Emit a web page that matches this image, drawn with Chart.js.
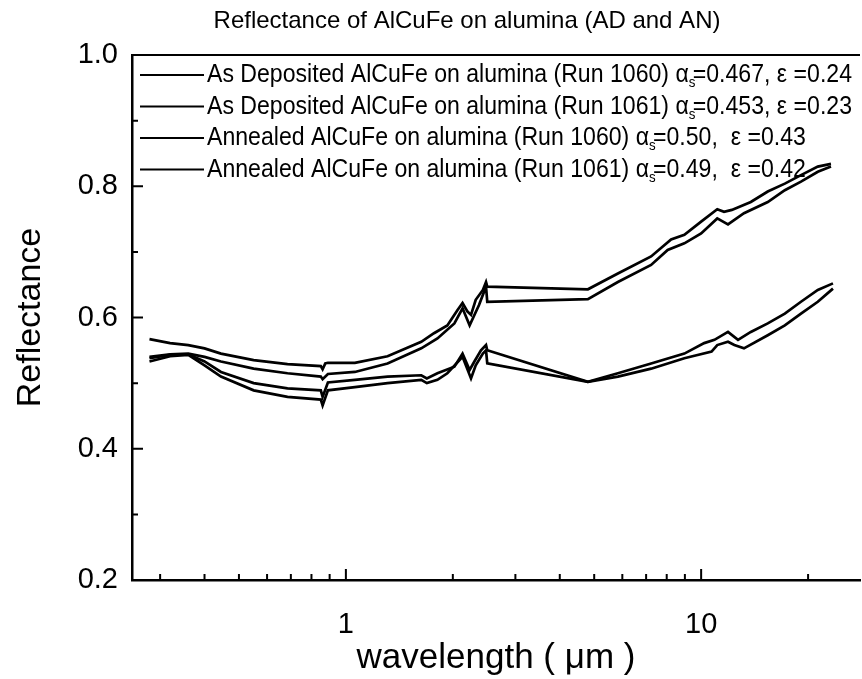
<!DOCTYPE html>
<html>
<head>
<meta charset="utf-8">
<title>Reflectance of AlCuFe on alumina</title>
<script src="https://cdn.jsdelivr.net/npm/chart.js@4.4.1/dist/chart.umd.min.js"></script>
<style>
  html, body { margin: 0; padding: 0; background: #fff; }
  #wrap { width: 862px; height: 679px; position: relative; }
</style>
</head>
<body>
<div id="wrap"><canvas id="reflChart"></canvas></div>
<script>
// wavelength in µm, reflectance as a fraction
const ad1060Wl = [0.28, 0.32, 0.36, 0.40, 0.445, 0.55, 0.685, 0.85, 0.86, 0.875, 0.89, 1.06, 1.31, 1.63, 1.77, 1.93, 2.06, 2.13, 2.20, 2.25, 2.32, 2.43, 2.48, 2.50, 4.80, 5.83, 7.23, 8.23, 8.97, 10.0, 11.1, 11.6, 12.2, 13.8, 15.4, 17.2, 19.1, 21.3, 23.2];
const ad1060R  = [0.567, 0.561, 0.558, 0.553, 0.545, 0.535, 0.529, 0.526, 0.521, 0.530, 0.531, 0.531, 0.541, 0.563, 0.576, 0.588, 0.611, 0.622, 0.609, 0.604, 0.627, 0.642, 0.654, 0.647, 0.643, 0.667, 0.693, 0.719, 0.726, 0.746, 0.765, 0.761, 0.764, 0.776, 0.792, 0.804, 0.817, 0.830, 0.834];

const ad1061Wl = [0.28, 0.32, 0.36, 0.40, 0.445, 0.55, 0.685, 0.85, 0.86, 0.89, 1.06, 1.31, 1.63, 1.81, 2.02, 2.13, 2.23, 2.37, 2.48, 2.50, 4.80, 5.83, 7.23, 8.05, 8.97, 10.0, 11.1, 11.9, 13.2, 15.4, 17.2, 19.1, 21.3, 23.2];
const ad1061R  = [0.540, 0.544, 0.545, 0.540, 0.533, 0.522, 0.515, 0.510, 0.506, 0.514, 0.517, 0.530, 0.553, 0.568, 0.591, 0.614, 0.588, 0.619, 0.647, 0.624, 0.628, 0.654, 0.680, 0.703, 0.713, 0.728, 0.751, 0.742, 0.759, 0.776, 0.794, 0.807, 0.822, 0.830];

const an1060Wl = [0.28, 0.32, 0.36, 0.40, 0.445, 0.55, 0.685, 0.85, 0.86, 0.89, 1.06, 1.31, 1.63, 1.69, 1.81, 2.02, 2.13, 2.23, 2.30, 2.40, 2.48, 2.50, 4.80, 5.83, 7.23, 8.97, 10.2, 10.9, 11.9, 12.7, 13.8, 15.4, 17.2, 19.1, 21.3, 23.5];
const an1060R  = [0.538, 0.543, 0.544, 0.533, 0.517, 0.500, 0.492, 0.489, 0.479, 0.501, 0.505, 0.510, 0.512, 0.507, 0.515, 0.525, 0.545, 0.520, 0.533, 0.550, 0.558, 0.550, 0.502, 0.515, 0.530, 0.545, 0.561, 0.566, 0.578, 0.566, 0.578, 0.591, 0.606, 0.624, 0.642, 0.652];

const an1061Wl = [0.28, 0.32, 0.36, 0.40, 0.445, 0.55, 0.685, 0.85, 0.86, 0.89, 1.06, 1.31, 1.63, 1.69, 1.81, 1.93, 2.13, 2.25, 2.32, 2.43, 2.48, 2.50, 4.80, 5.83, 7.23, 8.97, 10.7, 11.1, 11.9, 12.4, 13.2, 15.4, 17.2, 19.1, 21.3, 23.5];
const an1061R  = [0.533, 0.541, 0.543, 0.527, 0.510, 0.489, 0.479, 0.475, 0.466, 0.489, 0.494, 0.500, 0.505, 0.500, 0.505, 0.515, 0.540, 0.507, 0.527, 0.545, 0.550, 0.530, 0.502, 0.510, 0.522, 0.538, 0.548, 0.558, 0.563, 0.558, 0.553, 0.573, 0.588, 0.606, 0.624, 0.644];

const legendRuns = [
  'As Deposited AlCuFe on alumina (Run 1060)',
  'As Deposited AlCuFe on alumina (Run 1061)',
  'Annealed AlCuFe on alumina (Run 1060)',
  'Annealed AlCuFe on alumina (Run 1061)'
];
const legendAlpha = ['0.467', '0.453', '0.50', '0.49'];
const legendEps = ['0.24', '0.23', '0.43', '0.42'];

const xLabelTicks = [1, 10];
const xMinorTicks = [0.3, 0.4, 0.5, 0.6, 0.7, 0.8, 0.9, 2, 3, 4, 5, 6, 7, 8, 9, 20];
const yMajorTicks = [0.2, 0.4, 0.6, 0.8, 1.0];
const yMinorTicks = [0.3, 0.5, 0.7, 0.9];

const FONT = '"Liberation Sans", Arial, Helvetica, sans-serif';

function toPoints(wl, r) {
  return wl.map((w, i) => ({ x: w, y: r[i] }));
}

const seriesSets = [
  [ad1060Wl, ad1060R],
  [ad1061Wl, ad1061R],
  [an1060Wl, an1060R],
  [an1061Wl, an1061R]
];

// title drawn by hand so it can sit off the plot centre
const figureTitle = {
  id: 'figureTitle',
  afterDraw(chart, args, opts) {
    const { ctx } = chart;
    ctx.save();
    ctx.fillStyle = '#000';
    ctx.font = opts.font;
    ctx.textAlign = 'center';
    ctx.textBaseline = 'middle';
    ctx.fillText(opts.text, opts.x, opts.y);
    ctx.restore();
  }
};

// inward tick marks and the top edge of the frame
const frameTicks = {
  id: 'frameTicks',
  afterDraw(chart) {
    const { ctx, chartArea: a, scales: { x, y } } = chart;
    ctx.save();
    ctx.strokeStyle = '#000';
    ctx.lineWidth = 2;
    ctx.beginPath();
    ctx.moveTo(a.left, a.top);
    ctx.lineTo(a.right, a.top);
    xLabelTicks.forEach(v => {
      const px = x.getPixelForValue(v);
      ctx.moveTo(px, a.bottom);
      ctx.lineTo(px, a.bottom - 11);
    });
    xMinorTicks.forEach(v => {
      const px = x.getPixelForValue(v);
      ctx.moveTo(px, a.bottom);
      ctx.lineTo(px, a.bottom - 6);
    });
    yMajorTicks.forEach(v => {
      const py = y.getPixelForValue(v);
      ctx.moveTo(a.left, py);
      ctx.lineTo(a.left + 11, py);
    });
    yMinorTicks.forEach(v => {
      const py = y.getPixelForValue(v);
      ctx.moveTo(a.left, py);
      ctx.lineTo(a.left + 6, py);
    });
    ctx.stroke();
    ctx.restore();
  }
};

// legend rows with a subscript s after alpha, squeezed to fit inside the frame
const runLegend = {
  id: 'runLegend',
  afterDatasetsDraw(chart, args, opts) {
    const { ctx, chartArea: a } = chart;
    const rows = legendRuns.map((run, i) => ({
      head: run + ' \u03b1',
      tail: '=' + legendAlpha[i] + (i < 2 ? ', ' : ',  ') + '\u03b5 =' + legendEps[i]
    }));

    ctx.save();
    const widths = rows.map(r => {
      ctx.font = opts.font;
      const w = ctx.measureText(r.head).width + ctx.measureText(r.tail).width;
      ctx.font = opts.subFont;
      return w + ctx.measureText('s').width * 0.6;
    });
    const room = a.right - opts.rightGap - (a.left + opts.textStart);
    const squeeze = Math.min(1, room / Math.max(...widths));

    ctx.fillStyle = '#000';
    ctx.strokeStyle = '#000';
    ctx.textBaseline = 'middle';
    rows.forEach((r, i) => {
      const yy = a.top + opts.firstRow + i * opts.rowGap;
      ctx.lineWidth = 2.2;
      ctx.beginPath();
      ctx.moveTo(a.left + opts.lineStart, yy);
      ctx.lineTo(a.left + opts.lineEnd, yy);
      ctx.stroke();

      ctx.save();
      ctx.translate(a.left + opts.textStart, yy);
      ctx.scale(squeeze, 1);
      let tx = 0;
      ctx.font = opts.font;
      ctx.fillText(r.head, tx, 0);
      tx += ctx.measureText(r.head).width;
      ctx.font = opts.subFont;
      ctx.fillText('s', tx, opts.subShift);
      tx += ctx.measureText('s').width * 0.6;
      ctx.font = opts.font;
      ctx.fillText(r.tail, tx, 0);
      ctx.restore();
    });
    ctx.restore();
  }
};

const ctx = document.getElementById('reflChart').getContext('2d');
const reflChart = new Chart(ctx, {
  type: 'line',
  data: {
    datasets: seriesSets.map((s, i) => ({
      label: legendRuns[i] + ' \u03b1s=' + legendAlpha[i] + ', \u03b5 =' + legendEps[i],
      data: toPoints(s[0], s[1]),
      borderColor: '#000',
      borderWidth: 2.7,
      pointRadius: 0,
      tension: 0,
      fill: false
    }))
  },
  options: {
    responsive: true,
    maintainAspectRatio: false,
    animation: false,
    layout: { padding: { top: 55, right: 2, bottom: 0, left: 0 } },
    plugins: {
      legend: { display: false },
      tooltip: { enabled: false },
      title: { display: false },
      figureTitle: {
        text: 'Reflectance of AlCuFe on alumina (AD and AN)',
        font: '24px ' + FONT,
        x: 467,
        y: 21
      },
      runLegend: {
        firstRow: 20,
        rowGap: 31.5,
        lineStart: 8,
        lineEnd: 72,
        textStart: 75,
        rightGap: 8,
        subShift: 8,
        font: '26px ' + FONT,
        subFont: '15px ' + FONT
      }
    },
    scales: {
      x: {
        type: 'logarithmic',
        min: 0.25,
        max: 28,
        afterFit: s => { s.height = 99; },
        afterBuildTicks: s => { s.ticks = xLabelTicks.map(v => ({ value: v })); },
        grid: { display: false, drawTicks: false },
        border: { display: true, color: '#000', width: 2.5 },
        ticks: {
          color: '#000',
          padding: 28,
          autoSkip: false,
          maxRotation: 0,
          font: { family: FONT, size: 29 },
          callback: v => String(v)
        },
        title: {
          display: true,
          text: 'wavelength ( \u03bcm )',
          color: '#000',
          font: { family: FONT, size: 35 },
          padding: { top: 0, bottom: 0 }
        }
      },
      y: {
        min: 0.2,
        max: 1.0,
        afterFit: s => { s.width = 132; },
        afterBuildTicks: s => { s.ticks = yMajorTicks.map(v => ({ value: v })); },
        grid: { display: false, drawTicks: false },
        border: { display: true, color: '#000', width: 2.5 },
        ticks: {
          color: '#000',
          padding: 14,
          font: { family: FONT, size: 29 },
          callback: v => v.toFixed(1)
        },
        title: {
          display: true,
          text: 'Reflectance',
          color: '#000',
          font: { family: FONT, size: 34 },
          padding: { top: 10, bottom: 0 }
        }
      }
    }
  },
  plugins: [figureTitle, frameTicks, runLegend]
});
</script>
</body>
</html>
